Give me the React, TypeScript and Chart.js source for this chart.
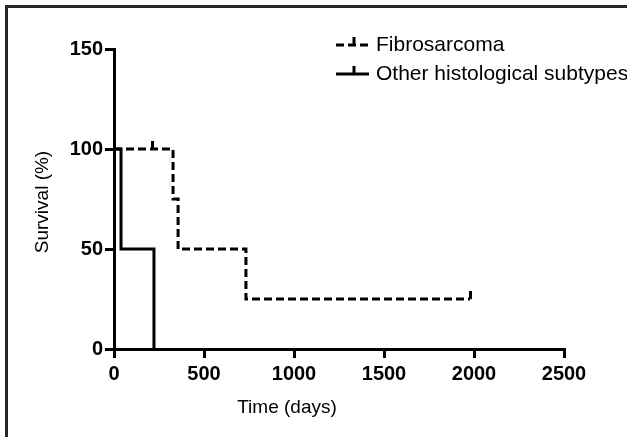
import React, { useEffect, useRef } from 'react';
import { Chart, registerables } from 'chart.js';

Chart.register(...registerables);

// ---- data ----
const SERIES_LABELS = ['Fibrosarcoma', 'Other histological subtypes'];
const FIBRO_DAYS = [0, 328, 356, 733, 1978];
const FIBRO_SURVIVAL = [100, 75, 50, 25, 25];
const FIBRO_CENSOR_DAYS = [215, 1978];
const FIBRO_CENSOR_SURVIVAL = [100, 25];
const OTHER_DAYS = [0, 39, 222];
const OTHER_SURVIVAL = [100, 50, 0];
const X_TICKS = [0, 500, 1000, 1500, 2000, 2500];
const Y_TICKS = [0, 50, 100, 150];
const X_TITLE = 'Time (days)';
const Y_TITLE = 'Survival (%)';

const FONT = '"Liberation Sans", Arial, Helvetica, sans-serif';
const INK = '#000000';

function makeCensorMark(): HTMLCanvasElement {
  const c = document.createElement('canvas');
  c.width = 3;
  c.height = 16;
  const g = c.getContext('2d')!;
  g.fillStyle = INK;
  g.fillRect(0, 0, 3, 8);
  return c;
}

const overlayPlugin = {
  id: 'overlay',
  afterDraw(chart: any) {
    const ctx: CanvasRenderingContext2D = chart.ctx;
    ctx.save();
    ctx.fillStyle = INK;
    ctx.strokeStyle = INK;
    // axis titles
    ctx.font = `19px ${FONT}`;
    ctx.textAlign = 'center';
    ctx.textBaseline = 'middle';
    ctx.fillText(X_TITLE, 287, 408);
    ctx.save();
    ctx.translate(43, 202);
    ctx.rotate(-Math.PI / 2);
    ctx.fillText(Y_TITLE, 0, 0);
    ctx.restore();

    // legend
    const rows = [45, 74];
    const x0 = 336;
    const x1 = 369;
    const tickX = 354;
    chart.data.datasets.forEach((ds: any) => {
      if (ds.legendRow === undefined) return;
      const y = rows[ds.legendRow];
      ctx.lineWidth = 3;
      ctx.lineCap = 'butt';
      ctx.setLineDash(ds.borderDash || []);
      ctx.beginPath();
      ctx.moveTo(x0, y);
      ctx.lineTo(x1, y);
      ctx.stroke();
      ctx.setLineDash([]);
      ctx.beginPath();
      ctx.moveTo(tickX, y);
      ctx.lineTo(tickX, y - 8);
      ctx.stroke();
      ctx.font = `21px ${FONT}`;
      ctx.textAlign = 'left';
      ctx.textBaseline = 'middle';
      ctx.fillText(ds.label, 376, y);
    });
    ctx.restore();
  },
};

export default function App() {
  const ref = useRef<HTMLCanvasElement | null>(null);

  useEffect(() => {
    document.body.style.margin = '0';
    const canvas = ref.current;
    if (!canvas) return;
    const mark = makeCensorMark();

    const fibro = FIBRO_DAYS.map((d, i) => ({ x: d, y: FIBRO_SURVIVAL[i] }));
    const fibroCensor = FIBRO_CENSOR_DAYS.map((d, i) => ({ x: d, y: FIBRO_CENSOR_SURVIVAL[i] }));
    const other = OTHER_DAYS.map((d, i) => ({ x: d, y: OTHER_SURVIVAL[i] }));

    const chart = new Chart(canvas, {
      type: 'line',
      data: {
        datasets: [
          {
            label: SERIES_LABELS[0],
            legendRow: 0,
            data: fibro,
            stepped: true,
            borderColor: INK,
            borderWidth: 3,
            borderDash: [8, 4],
            borderCapStyle: 'butt',
            borderJoinStyle: 'miter',
            pointRadius: 0,
            fill: false,
          } as any,
          {
            label: SERIES_LABELS[0] + ' censored',
            data: fibroCensor,
            showLine: false,
            pointStyle: mark,
            pointRadius: 5,
            borderColor: INK,
            backgroundColor: INK,
          } as any,
          {
            label: SERIES_LABELS[1],
            legendRow: 1,
            data: other,
            stepped: true,
            borderColor: INK,
            borderWidth: 3,
            borderCapStyle: 'butt',
            borderJoinStyle: 'miter',
            pointRadius: 0,
            fill: false,
          } as any,
        ],
      },
      options: {
        animation: false,
        responsive: false,
        events: [],
        layout: { padding: { top: 49, right: 63, left: 0, bottom: 0 } },
        plugins: {
          legend: { display: false },
          tooltip: { enabled: false },
          title: { display: false },
        },
        scales: {
          x: {
            type: 'linear',
            min: 0,
            max: 2500,
            afterBuildTicks: (s: any) => {
              s.ticks = X_TICKS.map((v) => ({ value: v }));
            },
            afterFit: (s: any) => {
              s.height = 88;
            },
            ticks: {
              color: INK,
              font: { family: FONT, size: 20, weight: 'bold' },
              padding: 4,
              maxRotation: 0,
              autoSkip: false,
              callback: (v: any) => String(v),
            },
            grid: {
              drawOnChartArea: false,
              drawTicks: true,
              tickLength: 9,
              lineWidth: 3,
              color: INK,
            },
            border: { display: true, color: INK, width: 3 },
          },
          y: {
            type: 'linear',
            min: 0,
            max: 150,
            afterBuildTicks: (s: any) => {
              s.ticks = Y_TICKS.map((v) => ({ value: v }));
            },
            afterFit: (s: any) => {
              s.width = 114;
            },
            ticks: {
              color: INK,
              font: { family: FONT, size: 20, weight: 'bold' },
              padding: 2,
              autoSkip: false,
              callback: (v: any) => String(v),
            },
            grid: {
              drawOnChartArea: false,
              drawTicks: true,
              tickLength: 9,
              lineWidth: 3,
              color: INK,
            },
            border: { display: true, color: INK, width: 3 },
          },
        },
      },
      plugins: [overlayPlugin],
    } as any);

    return () => chart.destroy();
  }, []);

  return (
    <div style={{ position: 'relative', width: 627, height: 437, overflow: 'hidden', background: '#fff' }}>
      <canvas ref={ref} width={627} height={437} style={{ display: 'block', width: 627, height: 437 }} />
      <div
        style={{
          position: 'absolute',
          left: 5,
          top: 5,
          right: -20,
          bottom: -20,
          borderTop: '3px solid #262626',
          borderLeft: '3px solid #262626',
          pointerEvents: 'none',
        }}
      />
    </div>
  );
}
